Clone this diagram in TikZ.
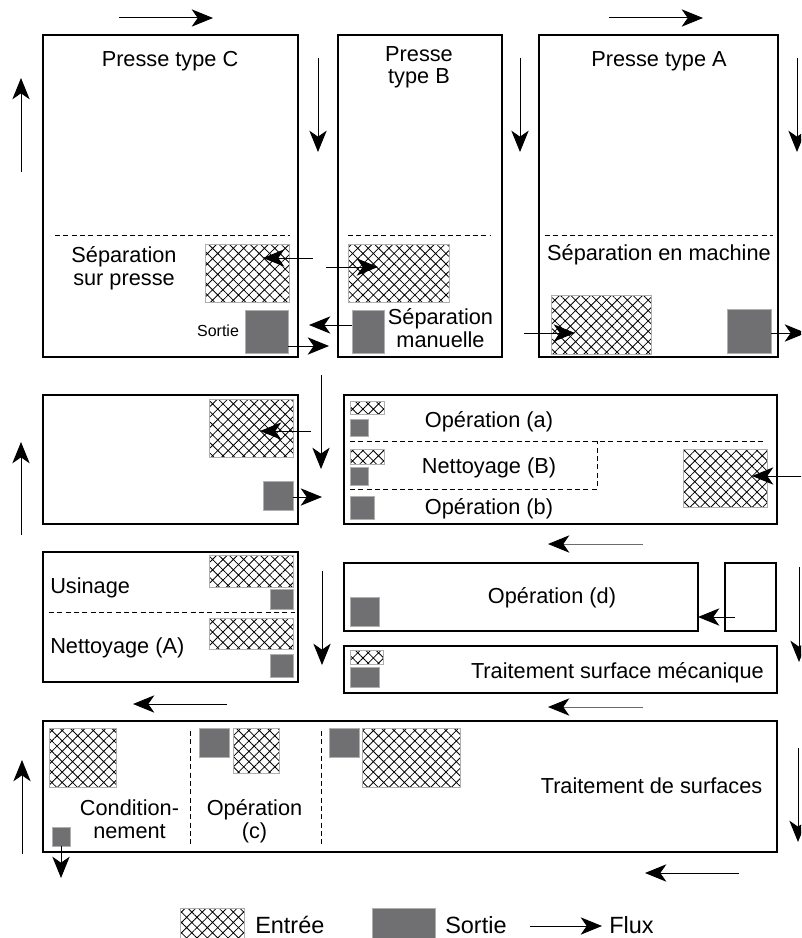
\documentclass[tikz,border=0pt]{standalone}
\usepackage{fontspec}
\setmainfont{Liberation Sans}
\usetikzlibrary{arrows.meta,patterns.meta}
\definecolor{outgray}{RGB}{112,112,114}
\definecolor{rimgray}{RGB}{175,175,175}

% rectangular zone given by its corners (pixel units): name, style, x1, y1, x2, y2
\newcommand\zone[6]{\node[#2, minimum width={(#5-#3)*0.75pt}, minimum height={(#6-#4)*0.75pt}] (#1) at ({(#3+#5)/2},{(#4+#6)/2}) {};}

\begin{document}
\begin{tikzpicture}[x=0.75pt,y=-0.75pt,
  box/.style={draw, line width=1.4pt, inner sep=0pt, outer sep=0pt},
  entree/.style={draw=rimgray, line width=0.6pt, inner sep=0pt, outer sep=0pt,
    pattern={Hatch[angle=45,distance=5.5pt,line width=0.6pt]}},
  sortie/.style={draw=rimgray, line width=0.5pt, fill=outgray, inner sep=0pt, outer sep=0pt},
  sep/.style={line width=0.7pt, dash pattern=on 3.75pt off 2.5pt},
  flux/.style={line width=0.75pt, -{Stealth[length=16pt,width=13pt,inset=4.5pt]}},
  fluxgray/.style={line width=0.75pt, draw=gray!85!black, -{Stealth[length=16pt,width=13pt,inset=4.5pt,color=black]}},
  lbl/.style={font=\fontsize{16.3}{16.6}\selectfont, inner sep=0pt, anchor=base, align=center},
  small/.style={font=\fontsize{12}{14}\selectfont, inner sep=0pt, anchor=base},
  leg/.style={font=\fontsize{17.6}{20}\selectfont, inner sep=0pt, anchor=base west}]

\useasboundingbox (0,0) rectangle (801,938);
\clip (0,0) rectangle (801,938);

% ---------- presses ----------
\zone{pC}{box}{43}{35}{298}{357}
\zone{pB}{box}{338}{35}{502}{357}
\zone{pA}{box}{539}{35}{778}{357}
\draw[sep] (55,235) -- (290,235);
\draw[sep] (348,235) -- (490,235);
\draw[sep] (545,235) -- (773,235);

% two-line labels are placed by the baseline of their last line
\node[lbl] (tC) at (170,66.7) {Presse type C};
\node[lbl] (tB) at (419,83.5) {Presse\\type B};
\node[lbl] (tA) at (659,66.7) {Presse type A};
\node[lbl] (sepC) at (124,285) {Séparation\\sur presse};
\node[lbl] (sepB) at (440.5,347) {Séparation\\manuelle};
\node[lbl] (sepA) at (659,260) {Séparation en machine};
\node[small] (outC) at (218,336) {Sortie};

\zone{hC}{entree}{205}{244}{289}{302}
\zone{hB}{entree}{348}{244}{449}{302}
\zone{hA}{entree}{551}{295}{651}{354}
\zone{sC}{sortie}{245}{310}{288}{353}
\zone{sB}{sortie}{352}{310}{384}{353}
\zone{sA}{sortie}{727}{309}{771}{353}

% ---------- middle blocks ----------
\zone{mL}{box}{43}{395}{298}{524}
\zone{hL}{entree}{209}{399}{293}{457}
\zone{sL}{sortie}{263}{481}{293}{510}

\zone{mR}{box}{344}{395}{777}{524}
\zone{ha}{entree}{350}{401}{384}{414}
\zone{sa}{sortie}{350}{419}{368}{436}
\zone{hb}{entree}{350}{449}{384}{464}
\zone{sbn}{sortie}{350}{467}{368}{485}
\zone{sbb}{sortie}{350}{496}{374}{519}
\zone{hR}{entree}{683}{449}{767}{507}
\draw[sep] (350,441) -- (765,441);
\draw[sep] (350,489) -- (597,489) -- (597,441);
\node[lbl] (opa) at (489,427) {Opération (a)};
\node[lbl] (netB) at (489,473) {Nettoyage (B)};
\node[lbl] (opb) at (489,514) {Opération (b)};

\zone{uN}{box}{43}{552}{298}{682}
\zone{hU1}{entree}{209}{555}{293}{587}
\zone{sU1}{sortie}{270}{589}{293}{609}
\zone{hU2}{entree}{209}{618}{293}{649}
\zone{sU2}{sortie}{270}{654}{293}{677}
\draw[sep] (49,612) -- (295,612);
\node[lbl, anchor=base west] (usi) at (50,593) {Usinage};
\node[lbl, anchor=base west] (netA) at (50,653) {Nettoyage (A)};

\zone{opD}{box}{344}{563}{698}{631}
\zone{sD}{sortie}{350}{597}{379}{626}
\node[lbl] (opd) at (552,603) {Opération (d)};
\zone{stock}{box}{725}{563}{776}{631}

\zone{tsm}{box}{344}{646}{777}{693}
\zone{hT}{entree}{350}{650}{383}{664}
\zone{sT}{sortie}{350}{667}{379}{687}
\node[lbl, anchor=base east] (tsmt) at (764,678) {Traitement surface mécanique};

% ---------- surface treatment line ----------
\zone{trs}{box}{43}{721}{777}{852}
\zone{h1}{entree}{49}{728}{116}{787}
\zone{s1}{sortie}{52}{827}{70}{846}
\zone{sc}{sortie}{199}{728}{229}{757}
\zone{hc}{entree}{233}{728}{279}{773}
\zone{s3}{sortie}{329}{728}{359}{757}
\zone{h3}{entree}{362}{728}{460}{787}
\draw[sep] (190,731) -- (190,844);
\draw[sep] (321,731) -- (321,844);
\node[lbl] (cond) at (129.5,838) {Condition-\\nement};
\node[lbl] (opc) at (254.5,838) {Opération\\(c)};
\node[lbl] (trst) at (651.5,793) {Traitement de surfaces};

% ---------- flow arrows ----------
\coordinate (a1) at (119,18);  \coordinate (a2) at (213,18);
\coordinate (a3) at (609,18);  \coordinate (a4) at (703,18);
\coordinate (a5) at (21,172);  \coordinate (a6) at (21,78);
\coordinate (a7) at (318,58);  \coordinate (a8) at (318,152);
\coordinate (a9) at (520,58);  \coordinate (a10) at (520,152);
\coordinate (a11) at (797,58); \coordinate (a12) at (797,152);
\draw[flux] (a1) -- (a2);
\draw[flux] (a3) -- (a4);
\draw[flux] (a5) -- (a6);
\draw[flux] (a7) -- (a8);
\draw[flux] (a9) -- (a10);
\draw[flux] (a11) -- (a12);

\coordinate (inC0) at (313,258); \coordinate (inC) at (263,258);
\coordinate (inB0) at (326,267); \coordinate (inB) at (378,267);
\coordinate (outB) at (309,325);
\coordinate (outC) at (329,346);
\coordinate (inA0) at (524,333); \coordinate (inA) at (575,333);
\coordinate (outA) at (806,333);
\draw[flux] (inC0) -- (inC);
\draw[flux] (inB0) -- (inB);
\draw[flux] (sB.west |- outB) -- (outB);
\draw[flux] (sC.east |- outC) -- (outC);
\draw[flux] (inA0) -- (inA);
\draw[flux] (sA.east |- outA) -- (outA);

\coordinate (inL0) at (311,431); \coordinate (inL) at (260,431);
\coordinate (outL) at (322,497);
\coordinate (b1) at (321,375); \coordinate (b2) at (321,469);
\coordinate (b3) at (21,535);  \coordinate (b4) at (21,442);
\coordinate (inR0) at (812,476); \coordinate (inR) at (752,476);
\coordinate (b5) at (643,544); \coordinate (b6) at (548,544);
\draw[flux] (inL0) -- (inL);
\draw[flux] (sL.east |- outL) -- (outL);
\draw[flux] (b1) -- (b2);
\draw[flux] (b3) -- (b4);
\draw[flux] (inR0) -- (inR);
\draw[fluxgray] (b5) -- (b6);

\coordinate (c1) at (322,571); \coordinate (c2) at (322,665);
\coordinate (inD0) at (735,617);
\coordinate (c3) at (799,567); \coordinate (c4) at (799,662);
\coordinate (c5) at (227,704); \coordinate (c6) at (133,704);
\coordinate (c7) at (643,707); \coordinate (c8) at (548,707);
\draw[flux] (c1) -- (c2);
\draw[flux] (inD0) -- (opD.east |- inD0);
\draw[flux] (c3) -- (c4);
\draw[flux] (c5) -- (c6);
\draw[fluxgray] (c7) -- (c8);

\coordinate (exit) at (61,878);
\coordinate (d1) at (22,854);  \coordinate (d2) at (22,760);
\coordinate (d3) at (798,748); \coordinate (d4) at (798,842);
\coordinate (d5) at (739,873); \coordinate (d6) at (645,873);
\draw[flux] (s1.south -| exit) -- (exit);
\draw[flux] (d1) -- (d2);
\draw[flux] (d3) -- (d4);
\draw[flux] (d5) -- (d6);

% ---------- legend ----------
\zone{kIn}{entree}{180}{908}{244}{941}
\node[leg] (kInT) at (255,933) {Entrée};
\zone{kOut}{sortie}{372}{908}{435}{941}
\node[leg] (kOutT) at (445,933) {Sortie};
\coordinate (kF0) at (530,926); \coordinate (kF1) at (602,926);
\draw[flux] (kF0) -- (kF1);
\node[leg] (kFT) at (609,933) {Flux};
\end{tikzpicture}
\end{document}
